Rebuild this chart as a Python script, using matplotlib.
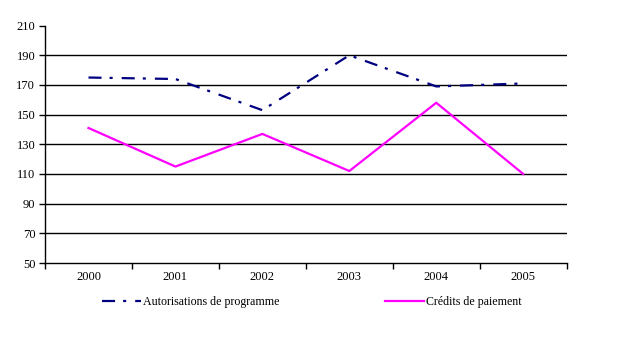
import matplotlib.pyplot as plt

# Chart data
years = ["2000", "2001", "2002", "2003", "2004", "2005"]
autorisations = [175, 174, 153, 190, 169, 171]
credits = [141, 115, 137, 112, 158, 110]
y_ticks = [50, 70, 90, 110, 130, 150, 170, 190, 210]

FS = 9
plt.rcParams["font.family"] = ["Liberation Serif", "DejaVu Serif"]
plt.rcParams["lines.scale_dashes"] = False

fig = plt.figure(figsize=(6.27, 3.52), dpi=100)
ax = fig.add_axes([0.0718, 0.2528, 0.832, 0.6745])

x = list(range(len(years)))
ax.plot(x, autorisations, color="#000080", linewidth=1.6,
        dashes=(9.4, 5.8, 2.2, 6.5), label="Autorisations de programme")
ax.plot(x, credits, color="#FF00FF", linewidth=1.6, label="Crédits de paiement")

ax.set_xlim(-0.5, len(years) - 0.5)
ax.set_ylim(50, 210)
ax.set_yticks(y_ticks)
ax.set_yticklabels([str(v) for v in y_ticks], fontsize=FS)
for v in y_ticks[1:-1]:
    ax.axhline(v, color="black", linewidth=1.0, zorder=0)

# category labels between boundary ticks
ax.set_xticks([i + 0.5 for i in range(-1, len(years))])
ax.set_xticklabels([])
ax.set_xticks(x, minor=True)
ax.set_xticklabels(years, minor=True, fontsize=FS)
ax.tick_params(axis="x", which="major", direction="out", length=4, width=1)
ax.tick_params(axis="x", which="minor", length=0, pad=6)
ax.tick_params(axis="y", direction="out", length=4, width=1, pad=3)

for side in ["top", "right"]:
    ax.spines[side].set_visible(False)
ax.spines["left"].set_linewidth(1.0)
ax.spines["bottom"].set_linewidth(1.0)

fig.legend(loc="center", bbox_to_anchor=(0.497, 0.142), ncol=2, frameon=False,
           fontsize=8.6, handlelength=3.3, handletextpad=0.15, columnspacing=8.8)

fig.savefig("out.png", dpi=100)
